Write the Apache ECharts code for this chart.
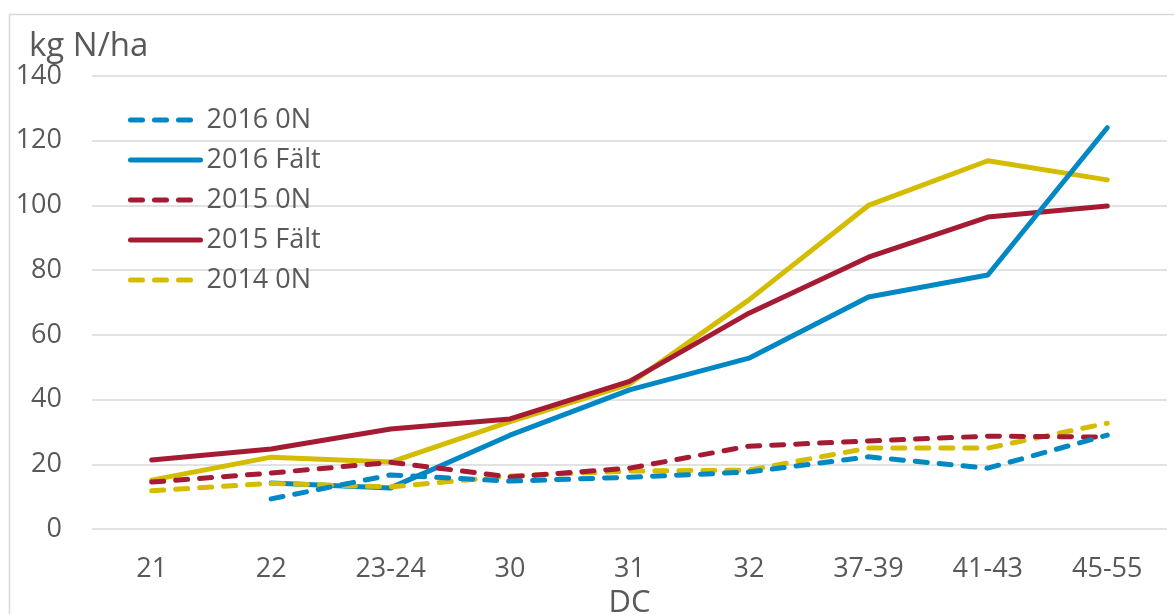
<!DOCTYPE html>
<html>
<head>
<meta charset="utf-8">
<script src="https://cdn.jsdelivr.net/npm/echarts@6/dist/echarts.min.js"></script>
<style>
  html, body { margin: 0; padding: 0; background: #fff; }
  #chart { width: 1174px; height: 614px; }
</style>
</head>
<body>
<div id="chart"></div>
<script>
// Development stage (DC) categories
const stages = ['21', '22', '23-24', '30', '31', '32', '37-39', '41-43', '45-55'];

// Nitrogen uptake, kg N/ha
const n2016_0N   = [null, 9.3, 16.7, 14.8, 16.0, 17.6, 22.3, 18.8, 29.0];
const n2016_falt = [null, 14.2, 12.7, 29.0, 43.0, 52.8, 71.7, 78.5, 124.0];
const n2015_0N   = [14.5, 17.3, 20.6, 16.1, 18.8, 25.6, 27.2, 28.7, 28.4];
const n2015_falt = [21.3, 24.7, 30.9, 34.0, 45.6, 66.7, 84.0, 96.4, 99.8];
const n2014_0N   = [11.8, 14.1, 13.0, 16.4, 17.9, 18.2, 25.0, 25.0, 32.7];
const n2014_falt = [15.1, 22.2, 20.7, 33.2, 44.8, 70.8, 100.0, 113.8, 107.9];

const legendNames = ['2016 0N', '2016 Fält', '2015 0N', '2015 Fält', '2014 0N'];
const yTicks = { min: 0, max: 140, step: 20 };

const BLUE = '#0088c4';
const RED = '#a51b34';
const YELLOW = '#d4bc00';
const TEXT = '#595959';
const FONT = 'Open Sans';

function lineSeries(name, data, color, dashed) {
  return {
    name: name,
    type: 'line',
    data: data,
    symbol: 'none',
    connectNulls: false,
    lineStyle: {
      color: color,
      width: 5,
      type: dashed ? [12, 12] : 'solid',
      cap: 'round',
      join: 'round'
    },
    itemStyle: { color: color }
  };
}

const chart = echarts.init(document.getElementById('chart'), null, { renderer: 'canvas' });

chart.setOption({
  animation: false,
  backgroundColor: '#fff',
  textStyle: { fontFamily: FONT, color: TEXT },
  title: {
    text: 'kg N/ha',
    left: 29,
    top: 30,
    padding: 0,
    textStyle: { fontFamily: FONT, fontSize: 33, fontWeight: 'normal', color: TEXT }
  },
  graphic: [{
    type: 'polyline',
    shape: { points: [[9.5, 614], [9.5, 14.5], [1174, 14.5]] },
    style: { stroke: '#d9d9d9', lineWidth: 1.5, fill: null },
    silent: true
  }],
  grid: { left: 92, right: 7, top: 76, bottom: 85, containLabel: false, outerBoundsMode: 'none' },
  legend: {
    data: legendNames,
    orient: 'vertical',
    left: 128,
    top: 106.5,
    padding: 0,
    itemWidth: 70,
    itemHeight: 20,
    itemGap: 13,
    itemStyle: { opacity: 0 },
    lineStyle: { width: 5, cap: 'round' },
    textStyle: { fontFamily: FONT, fontSize: 27, lineHeight: 27, color: TEXT, padding: [0, 0, 0, 1] },
    selectedMode: false
  },
  xAxis: {
    type: 'category',
    data: stages,
    boundaryGap: true,
    name: 'DC',
    nameLocation: 'middle',
    nameGap: 53,
    nameTextStyle: { fontFamily: FONT, fontSize: 31, color: TEXT },
    axisLine: { show: false },
    axisTick: { show: false },
    axisLabel: { fontFamily: FONT, fontSize: 27, color: TEXT, margin: 27 }
  },
  yAxis: {
    type: 'value',
    min: yTicks.min,
    max: yTicks.max,
    interval: yTicks.step,
    axisLine: { show: false },
    axisTick: { show: false },
    axisLabel: { fontFamily: FONT, fontSize: 27, color: TEXT, margin: 30 },
    splitLine: { lineStyle: { color: '#d9d9d9', width: 1.5 } }
  },
  series: [
    lineSeries('2014 Fält', n2014_falt, YELLOW, false),
    lineSeries('2015 Fält', n2015_falt, RED, false),
    lineSeries('2016 Fält', n2016_falt, BLUE, false),
    lineSeries('2014 0N', n2014_0N, YELLOW, true),
    lineSeries('2015 0N', n2015_0N, RED, true),
    lineSeries('2016 0N', n2016_0N, BLUE, true)
  ]
});
</script>
</body>
</html>
